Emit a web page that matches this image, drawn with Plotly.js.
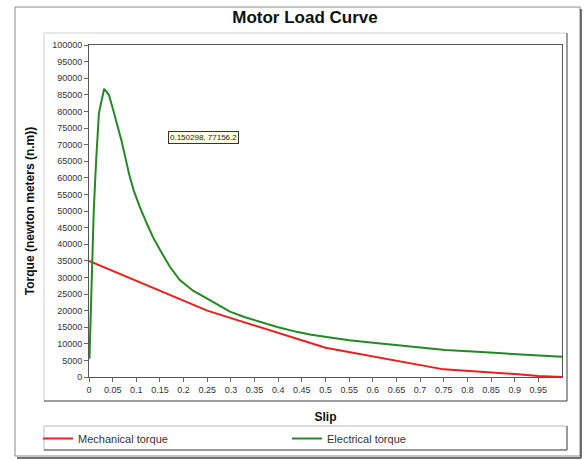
<!DOCTYPE html>
<html>
<head>
<meta charset="utf-8">
<script src="https://cdn.plot.ly/plotly-3.0.1.min.js"></script>
<style>html,body{margin:0;padding:0;background:#fff;}#chart{width:586px;height:460px;}</style>
</head>
<body>
<div id="chart"></div>
<script>
// ---- data ----
var mechSlip   = [0, 0.25, 0.5, 0.75, 0.9, 0.95, 1.0];
var mechTorque = [35000, 20000, 8800, 2300, 900, 300, 0];

var elecSlip   = [0.001, 0.004, 0.007, 0.010, 0.015, 0.021, 0.032, 0.042, 0.050, 0.060, 0.069, 0.077, 0.085, 0.095, 0.108, 0.122, 0.135, 0.150, 0.171, 0.192, 0.220, 0.249, 0.275, 0.298, 0.330, 0.369, 0.400, 0.439, 0.470, 0.506, 0.550, 0.601, 0.680, 0.753, 0.830, 0.900, 1.000];
var elecTorque = [5500, 22000, 40000, 50000, 65000, 79500, 86800, 85000, 81000, 76000, 71000, 66000, 61000, 56000, 51000, 46300, 42200, 38300, 33200, 29200, 26000, 23700, 21500, 19700, 18000, 16200, 15000, 13600, 12700, 12000, 11100, 10300, 9100, 8100, 7500, 6900, 6100];

var seriesNames = ["Mechanical torque", "Electrical torque"];
var xTickVals = [0, 0.05, 0.1, 0.15, 0.2, 0.25, 0.3, 0.35, 0.4, 0.45, 0.5, 0.55, 0.6, 0.65, 0.7, 0.75, 0.8, 0.85, 0.9, 0.95];
var tooltipText = "0.150298, 77156.2";

// ---- geometry helpers (pixel -> paper) ----
var W = 586, H = 460;
var L = 89, T = 45, R = 562, B = 377;
function px(x) { return (x - L) / (R - L); }
function py(y) { return (B - y) / (B - T); }
var FONT = "Liberation Sans, Arial, sans-serif";

var traces = [
  {x: mechSlip, y: mechTorque, name: seriesNames[0], mode: "lines",
   line: {color: "#f01c1c", width: 2}},
  {x: elecSlip, y: elecTorque, name: seriesNames[1], mode: "lines",
   line: {color: "#238a23", width: 2}}
];

function rect(x0, y0, x1, y1, color, w) {
  return {type: "rect", xref: "paper", yref: "paper", x0: px(x0), x1: px(x1), y0: py(y0), y1: py(y1),
          line: {color: color, width: w}, fillcolor: "rgba(0,0,0,0)", layer: "below"};
}
function seg(x0, y0, x1, y1, color, w) {
  return {type: "line", xref: "paper", yref: "paper", x0: px(x0), x1: px(x1), y0: py(y0), y1: py(y1),
          line: {color: color, width: w}, layer: "below"};
}

var layout = {
  width: W, height: H,
  margin: {l: L, r: W - R, t: T, b: H - B, pad: 0, autoexpand: false},
  paper_bgcolor: "#ffffff", plot_bgcolor: "#ffffff",
  font: {family: FONT, color: "#333"},
  title: {text: "<b>Motor Load Curve</b>", font: {family: FONT, size: 17, color: "#111"},
          xref: "container", yref: "container", x: 305 / W, y: 1 - 17 / H, xanchor: "center", yanchor: "middle"},
  xaxis: {
    range: [0, 1], tickvals: xTickVals, ticks: "outside", ticklen: 4, tickcolor: "#666",
    tickfont: {size: 9, color: "#333", family: FONT},
    showgrid: false, zeroline: false, showline: true, mirror: true, linecolor: "#555", linewidth: 1,
    title: {text: "<b>Slip</b>", font: {size: 12, color: "#111", family: FONT}, standoff: 18},
    automargin: false
  },
  yaxis: {
    range: [0, 100000], dtick: 5000, tickformat: "d", ticks: "outside", ticklen: 4, tickcolor: "#666",
    tickfont: {size: 9, color: "#333", family: FONT},
    showgrid: false, zeroline: false, showline: true, mirror: true, linecolor: "#555", linewidth: 1,
    title: {text: "<b>Torque (newton meters (n.m))</b>", font: {size: 12, color: "#111", family: FONT}, standoff: 14},
    automargin: false
  },
  showlegend: true,
  legend: {orientation: "h", xref: "paper", yref: "paper", x: px(38), y: py(424),
           xanchor: "left", yanchor: "top",
           font: {size: 11, color: "#333", family: FONT}, bgcolor: "rgba(0,0,0,0)",
           entrywidth: 204, entrywidthmode: "pixels", itemwidth: 30, tracegroupgap: 0},
  shapes: [
    rect(15, 7, 580, 456, "#8a8a8a", 1),
    seg(581, 9, 581, 458, "#444", 1.5),
    seg(17, 458, 581, 458, "#444", 1.5),
    rect(44, 33, 567, 401, "#d0d0d0", 1),
    seg(44, 401, 567, 401, "#555", 1),
    seg(567, 33, 567, 401, "#555", 1),
    rect(44, 426, 567, 450, "#bbbbbb", 1),
    seg(44, 450, 567, 450, "#555", 1),
    seg(567, 426, 567, 450, "#555", 1)
  ],
  annotations: [
    {text: tooltipText, xref: "x", yref: "y", x: 0.243, y: 72000, showarrow: false,
     font: {size: 8, color: "#222", family: FONT}, bgcolor: "#ffffdd", bordercolor: "#333", borderwidth: 1, borderpad: 1}
  ]
};

Plotly.newPlot("chart", traces, layout, {displayModeBar: false, staticPlot: true});
</script>
</body>
</html>
